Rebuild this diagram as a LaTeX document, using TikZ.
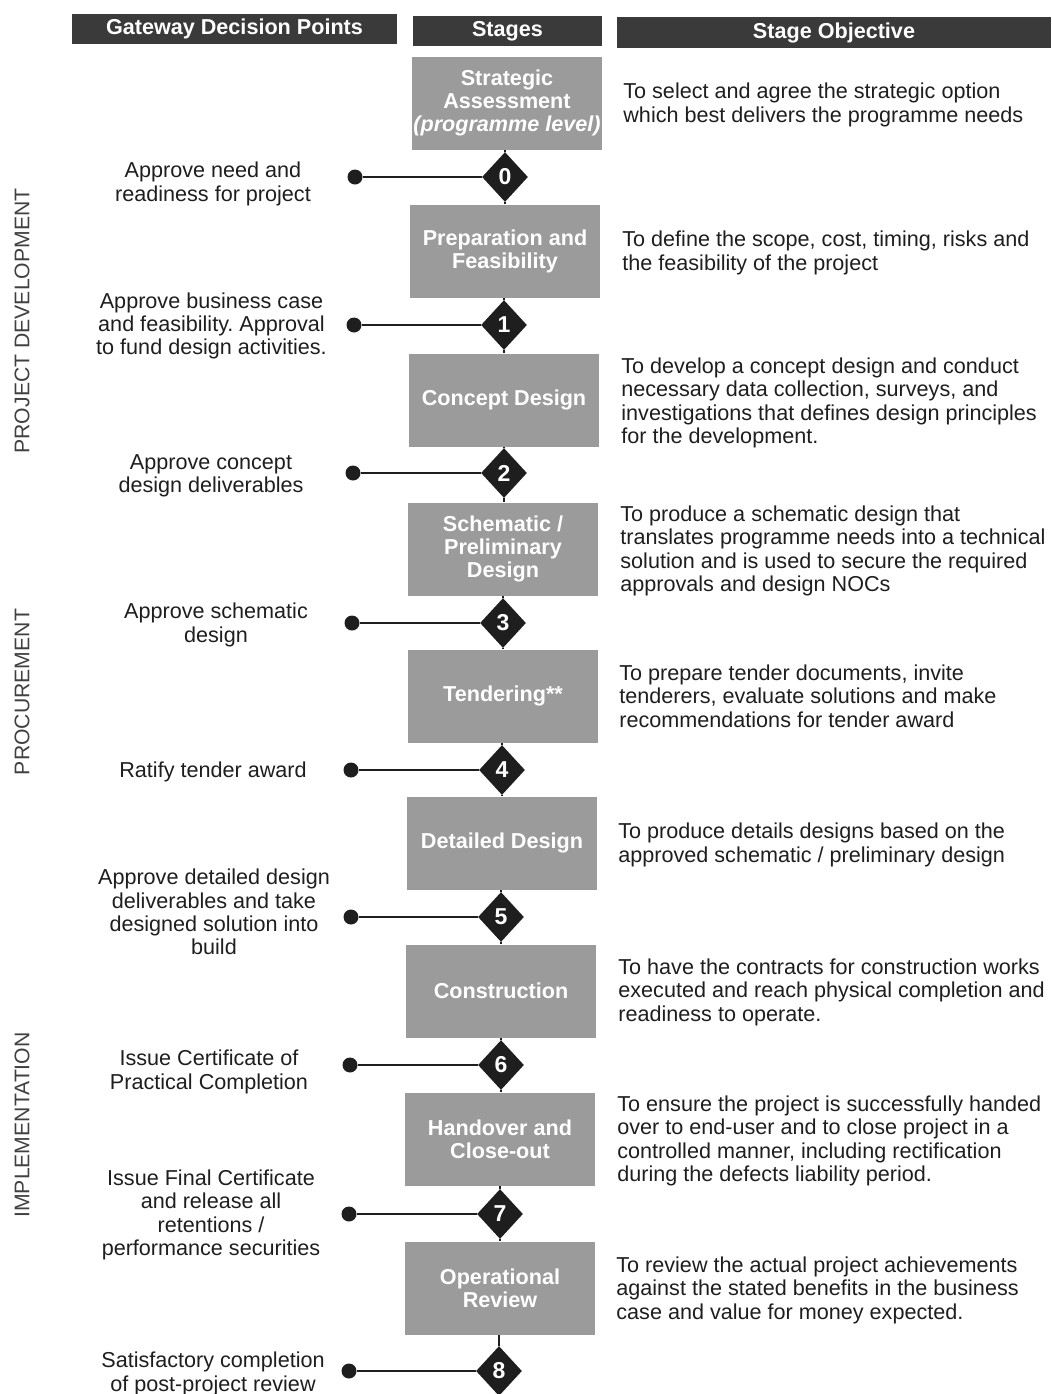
\documentclass[tikz,border=0pt]{standalone}
\usepackage{fontspec}
\setmainfont{Liberation Sans}
\usetikzlibrary{shapes.geometric}
\definecolor{hdr}{HTML}{3A3A3A}
\definecolor{stg}{HTML}{9B9B9B}
\definecolor{ink}{HTML}{1E1E1E}
\frenchspacing
\begin{document}
\begin{tikzpicture}[x=0.5pt,y=-0.5pt,
  hdrbox/.style={fill=hdr, text=white, font=\fontsize{10.8}{12}\selectfont\bfseries, inner sep=0, minimum height=15pt},
  stagebox/.style={fill=stg, text=white, font=\fontsize{10.8}{11.5}\selectfont\bfseries, align=center, minimum width=95pt, minimum height=46.5pt, inner sep=0},
  gate/.style={diamond, fill=ink, text=white, font=\fontsize{11.5}{11.5}\selectfont\bfseries, inner sep=0, minimum width=23pt, minimum height=25pt},
  dotnode/.style={circle, fill=ink, inner sep=0, minimum size=7.5pt},
  lefttxt/.style={align=center, text=ink, font=\fontsize{10.8}{11.65}\selectfont, inner sep=0},
  objtxt/.style={align=left, anchor=west, text=ink, font=\fontsize{10.8}{11.75}\selectfont, inner sep=0},
  phaselbl/.style={rotate=90, text=ink!85, font=\fontsize{10.6}{12}\selectfont, inner sep=0},
  conn/.style={draw=ink, line width=0.7pt}
]
\useasboundingbox (0,0) rectangle (1051,1394);

% headers
\node[hdrbox, minimum width=162.5pt] (h1) at (234.5,29) {Gateway Decision Points};
\node[hdrbox, minimum width=94.5pt] (h2) at (507.5,31) {Stages};
\node[hdrbox, minimum width=217pt, minimum height=15.5pt] (h3) at (834,32.5) {Stage Objective};

% phase labels
\node[phaselbl] (p1) at (22,321) {PROJECT DEVELOPMENT};
\node[phaselbl] (p2) at (22,692) {PROCUREMENT};
\node[phaselbl] (p3) at (22,1125) {IMPLEMENTATION};

% stages
\node[stagebox] (s0) at (507,103) {Strategic\\Assessment\\{\itshape(programme level)}};
\node[stagebox] (s1) at (505,251) {Preparation and\\Feasibility};
\node[stagebox] (s2) at (504,400) {Concept Design};
\node[stagebox] (s3) at (503,549) {Schematic /\\Preliminary\\Design};
\node[stagebox] (s4) at (503,696) {Tendering**};
\node[stagebox] (s5) at (502,843) {Detailed Design};
\node[stagebox] (s6) at (501,991) {Construction};
\node[stagebox] (s7) at (500,1139) {Handover and\\Close-out};
\node[stagebox] (s8) at (500,1288) {Operational\\Review};

% gates
\node[gate] (g0) at (505,177) {0};
\node[gate] (g1) at (504,325) {1};
\node[gate] (g2) at (504,473) {2};
\node[gate] (g3) at (503,623) {3};
\node[gate] (g4) at (502,770) {4};
\node[gate] (g5) at (501,917) {5};
\node[gate] (g6) at (501,1065) {6};
\node[gate] (g7) at (500,1214) {7};
\node[gate] (g8) at (499,1371) {8};

% dots
\node[dotnode] (d0) at (355,177) {};
\node[dotnode] (d1) at (354,325) {};
\node[dotnode] (d2) at (353,473) {};
\node[dotnode] (d3) at (352,623) {};
\node[dotnode] (d4) at (351,770) {};
\node[dotnode] (d5) at (351,917) {};
\node[dotnode] (d6) at (350,1065) {};
\node[dotnode] (d7) at (349,1214) {};
\node[dotnode] (d8) at (349,1371) {};

% connectors
\foreach \i in {0,...,8}{
  \draw[conn] (d\i) -- (g\i);
  \draw[conn] (g\i.north |- s\i.south) -- (g\i.north);
}
\foreach \i/\j in {0/1,1/2,2/3,3/4,4/5,5/6,6/7,7/8}{
  \draw[conn] (g\i.south) -- (g\i.south |- s\j.north);
}

% left labels
\node[lefttxt] (l0) at (213,184) {Approve need and\\readiness for project};
\node[lefttxt] (l1) at (211.5,326) {Approve business case\\and feasibility. Approval\\to fund design activities.};
\node[lefttxt] (l2) at (211,476) {Approve concept\\design deliverables};
\node[lefttxt] (l3) at (216,625) {Approve schematic\\design};
\node[lefttxt] (l4) at (213,772) {Ratify tender award};
\node[lefttxt] (l5) at (214,912) {Approve detailed design\\deliverables and take\\designed solution into\\build};
\node[lefttxt] (l6) at (209,1072) {Issue Certificate of\\Practical Completion};
\node[lefttxt] (l7) at (211,1215) {Issue Final Certificate\\and release all\\retentions /\\performance securities};
\node[lefttxt] (l8) at (213,1374) {Satisfactory completion\\of post-project review};

% objectives
\node[objtxt] (o0) at (623,105) {To select and agree the strategic option\\which best delivers the programme needs};
\node[objtxt] (o1) at (622,253) {To define the scope, cost, timing, risks and\\the feasibility of the project};
\node[objtxt] (o2) at (621,403) {To develop a concept design and conduct\\necessary data collection, surveys, and\\investigations that defines design principles\\for the development.};
\node[objtxt] (o3) at (620,551) {To produce a schematic design that\\translates programme needs into a technical\\solution and is used to secure the required\\approvals and design NOCs};
\node[objtxt] (o4) at (619,696) {To prepare tender documents, invite\\tenderers, evaluate solutions and make\\recommendations for tender award};
\node[objtxt] (o5) at (618,845) {To produce details designs based on the\\approved schematic / preliminary design};
\node[objtxt] (o6) at (618,992) {To have the contracts for construction works\\executed and reach physical completion and\\readiness to operate.};
\node[objtxt] (o7) at (617,1141) {To ensure the project is successfully handed\\over to end-user and to close project in a\\controlled manner, including rectification\\during the defects liability period.};
\node[objtxt] (o8) at (616,1290) {To review the actual project achievements\\against the stated benefits in the business\\case and value for money expected.};
\end{tikzpicture}
\end{document}
